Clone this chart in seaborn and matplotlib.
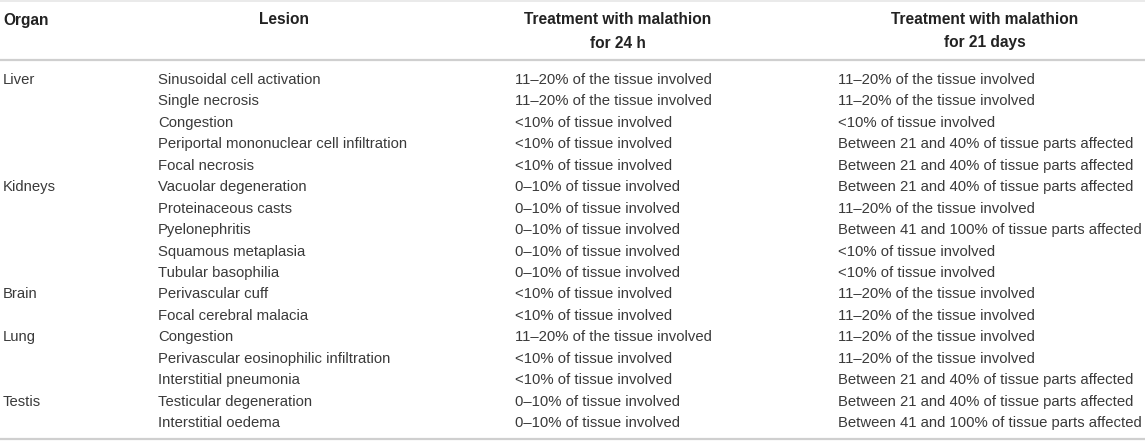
import matplotlib
matplotlib.use("Agg")
import matplotlib.pyplot as plt
import seaborn as sns

# Table content
organs = ['Liver', '', '', '', '',
          'Kidneys', '', '', '', '',
          'Brain', '',
          'Lung', '', '',
          'Testis', '']
lesions = ['Sinusoidal cell activation', 'Single necrosis', 'Congestion',
           'Periportal mononuclear cell infiltration', 'Focal necrosis',
           'Vacuolar degeneration', 'Proteinaceous casts', 'Pyelonephritis',
           'Squamous metaplasia', 'Tubular basophilia',
           'Perivascular cuff', 'Focal cerebral malacia',
           'Congestion', 'Perivascular eosinophilic infiltration', 'Interstitial pneumonia',
           'Testicular degeneration', 'Interstitial oedema']
a = '11–20% of the tissue involved'
b = '<10% of tissue involved'
c = '0–10% of tissue involved'
d = 'Between 21 and 40% of tissue parts affected'
e = 'Between 41 and 100% of tissue parts affected'
treat_24h = [a, a, b, b, b,
             c, c, c, c, c,
             b, b,
             a, b, b,
             c, c]
treat_21d = [a, a, b, d, d,
             d, a, e, b, b,
             a, a,
             a, a, d,
             d, e]
headers = ['Organ', 'Lesion', 'Treatment with malathion\nfor 24 h',
           'Treatment with malathion\nfor 21 days']

sns.set_theme(style="white")
plt.rcParams['font.family'] = ['Liberation Sans', 'DejaVu Sans']

fig = plt.figure(figsize=(11.45, 4.42), dpi=100)
ax = fig.add_axes([0, 0, 1, 1])
ax.set_xlim(0, 1145)
ax.set_ylim(442, 0)
ax.axis('off')

text_col = '#3a3a3a'
head_col = '#222222'
line_col = '#cfcfcf'

# rules
ax.axhline(0.8, color='#e6e6e6', lw=1.2)
ax.axhline(59.5, color=line_col, lw=1.6)
ax.axhline(439, color=line_col, lw=1.6)

# header
hsize = 11.2
ax.text(3, 20, headers[0], fontsize=hsize, fontweight='bold', color=head_col,
        ha='left', va='center')
ax.text(284, 20, headers[1], fontsize=hsize, fontweight='bold', color=head_col,
        ha='center', va='center')
for xc, h in [(618, headers[2]), (985, headers[3])]:
    top, bottom = h.split('\n')
    ax.text(xc, 19, top, fontsize=hsize, fontweight='bold', color=head_col,
            ha='center', va='center')
    ax.text(xc, 43, bottom, fontsize=hsize, fontweight='bold', color=head_col,
            ha='center', va='center')

# body
bsize = 10.7
row0, step = 80, 21.45
col_x = [3, 158, 515, 838]
for i in range(len(lesions)):
    y = row0 + i * step
    for x, val in zip(col_x, [organs[i], lesions[i], treat_24h[i], treat_21d[i]]):
        if val:
            ax.text(x, y, val, fontsize=bsize, color=text_col, ha='left', va='center')

fig.savefig('out.png', dpi=100)
